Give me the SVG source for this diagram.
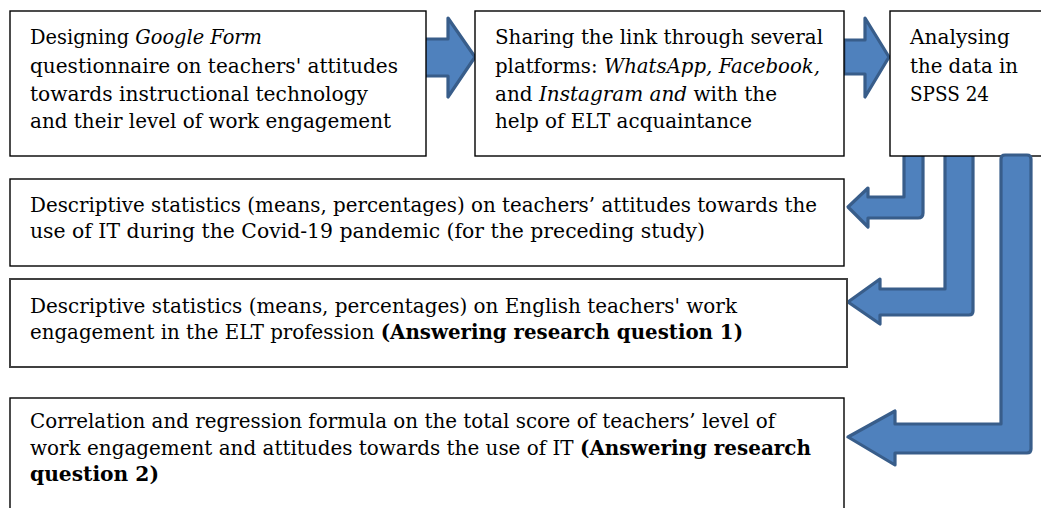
<svg xmlns="http://www.w3.org/2000/svg" width="1041" height="508" viewBox="0 0 1041 508">
<style>
.box{fill:#fff;stroke:#000;stroke-width:1.4}
.box5{fill:#fff;stroke:#404040;stroke-width:2}
.arr{fill:#4F81BD;stroke:#385D8A;stroke-width:3.2;stroke-linejoin:round}
text{font-family:"DejaVu Serif","Liberation Serif",serif;font-size:20px;fill:#000}
.i{font-style:italic}
.b{font-weight:bold}
</style>
<rect width="1041" height="508" fill="#fff"/>
<g id="connectors">
<path class="arr" d="M424,39 L448,39 L448,18 L475,57 L448,97 L448,76 L424,76 Z"/>
<path class="arr" d="M844,40 L865,40 L865,18 L889,57 L865,97 L865,74 L844,74 Z"/>
<path class="arr" d="M904,150 L904,197 L868,197 L868,188 L848,207 L868,227 L868,218 L918,218 Q923,218 923,213 L923,150 Z"/>
<path class="arr" d="M945,150 L945,289 L880,289 L880,279 L848,302 L880,324 L880,315 L969,315 Q973,315 973,311 L973,150 Z"/>
</g>
<g id="box3">
<rect class="box" x="890" y="11" width="160" height="145"/>
<text x="910" y="44" textLength="100" lengthAdjust="spacingAndGlyphs">Analysing</text>
<text x="910" y="73" textLength="108" lengthAdjust="spacingAndGlyphs">the data in</text>
<text x="910" y="101" textLength="79" lengthAdjust="spacingAndGlyphs">SPSS 24</text>
</g>
<g id="connector3">
<path class="arr" d="M1005,155 L1027,155 Q1031,155 1031,159 L1031,449 Q1031,453 1027,453 L895,453 L895,465 L848,437 L895,411 L895,424 L1001,424 L1001,159 Q1001,155 1005,155 Z"/>
</g>
<g id="box1">
<rect class="box" x="10" y="11" width="416" height="145"/>
<text x="30" y="44" textLength="232" lengthAdjust="spacingAndGlyphs">Designing <tspan class="i">Google Form</tspan></text>
<text x="30" y="73" textLength="368" lengthAdjust="spacingAndGlyphs">questionnaire on teachers' attitudes</text>
<text x="30" y="101" textLength="338" lengthAdjust="spacingAndGlyphs">towards instructional technology</text>
<text x="30" y="128" textLength="361" lengthAdjust="spacingAndGlyphs">and their level of work engagement</text>
</g>
<g id="box2">
<rect class="box" x="475" y="11" width="369" height="145"/>
<text x="495" y="44" textLength="328" lengthAdjust="spacingAndGlyphs">Sharing the link through several</text>
<text x="495" y="73" textLength="325" lengthAdjust="spacingAndGlyphs">platforms: <tspan class="i">WhatsApp, Facebook,</tspan></text>
<text x="495" y="101" textLength="282" lengthAdjust="spacingAndGlyphs">and <tspan class="i">Instagram and</tspan> with the</text>
<text x="495" y="128" textLength="257" lengthAdjust="spacingAndGlyphs">help of ELT acquaintance</text>
</g>
<g id="box4">
<rect class="box" x="10" y="179" width="834" height="87"/>
<text x="30" y="212" textLength="787" lengthAdjust="spacingAndGlyphs">Descriptive statistics (means, percentages) on teachers’ attitudes towards the</text>
<text x="30" y="238" textLength="675" lengthAdjust="spacingAndGlyphs">use of IT during the Covid-19 pandemic (for the preceding study)</text>
</g>
<g id="box5">
<rect class="box5" x="10" y="279" width="837" height="88"/>
<text x="30" y="313" textLength="707" lengthAdjust="spacingAndGlyphs">Descriptive statistics (means, percentages) on English teachers' work</text>
<text x="30" y="339" textLength="713" lengthAdjust="spacingAndGlyphs">engagement in the ELT profession <tspan class="b">(Answering research question 1)</tspan></text>
</g>
<g id="box6">
<rect class="box" x="10" y="398" width="834" height="120"/>
<text x="30" y="428" textLength="745" lengthAdjust="spacingAndGlyphs">Correlation and regression formula on the total score of teachers’ level of</text>
<text x="30" y="455" textLength="781" lengthAdjust="spacingAndGlyphs">work engagement and attitudes towards the use of IT <tspan class="b">(Answering research</tspan></text>
<text x="30" y="481" textLength="129" lengthAdjust="spacingAndGlyphs" class="b">question 2)</text>
</g>
</svg>
